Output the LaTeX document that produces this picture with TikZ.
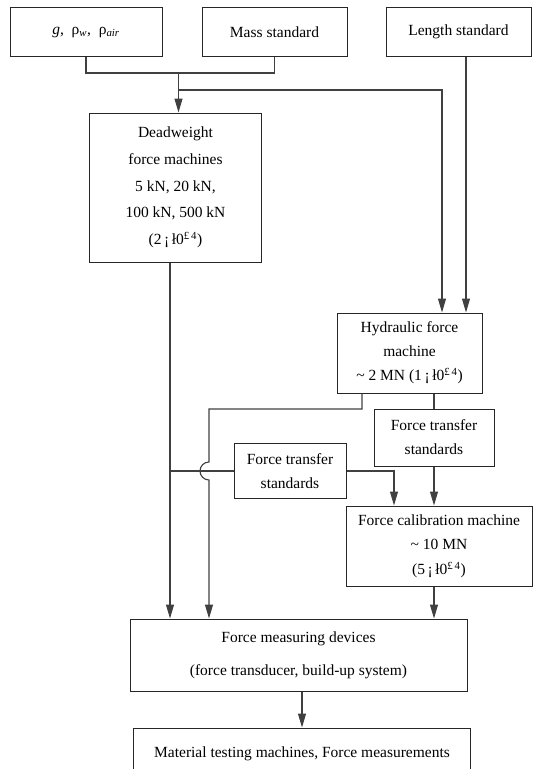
\documentclass[tikz,border=0pt]{standalone}
\usepackage{fontspec}
\setmainfont{Liberation Serif}
\usetikzlibrary{arrows.meta}
\tikzset{
  >={Triangle[length=14pt,width=8pt]},
  box/.style={draw=black!85, line width=1pt, inner sep=0pt, align=center,
    font=\fontsize{15.5}{24}\selectfont},
  link/.style={draw=black!75, line width=1.1pt},
}
\newcommand{\accy}[1]{(#1\,¡\,ł0\textsuperscript{£\,4})}

\begin{document}
\begin{tikzpicture}[x=1pt, y=-1pt]
  \useasboundingbox (0,0) rectangle (533,769);
  \clip (0,0) rectangle (533,769);

  % standards
  \node[box, minimum width=152pt, minimum height=49pt] (gr)   at (86,32)
       {{\itshape g}, \ ρ\textsubscript{\itshape w}, \ ρ\textsubscript{\itshape air}};
  \node[box, minimum width=145pt, minimum height=49pt] (mass) at (274.5,32) {Mass standard};
  \node[box, minimum width=145pt, minimum height=49pt] (len)  at (458.5,32) {Length standard};

  % machines
  \node[box, minimum width=172pt, minimum height=149pt,
        font=\fontsize{15.5}{26.7}\selectfont] (dead) at (175.5,187.5)
       {Deadweight\\force machines\\5 kN, 20 kN,\\100 kN, 500 kN\\\accy{2}};
  \node[box, minimum width=145pt, minimum height=80pt] (hyd) at (409.5,353)
       {Hydraulic force\\machine\\\textasciitilde\ 2 MN \accy{1}};
  \node[box, minimum width=120pt, minimum height=57pt] (ftsR) at (434,437.5)
       {Force transfer\\standards};
  \node[box, minimum width=112pt, minimum height=55pt] (ftsL) at (290,471)
       {Force transfer\\standards};
  \node[box, minimum width=186pt, minimum height=80pt,
        font=\fontsize{15.5}{24.5}\selectfont] (cal) at (439,546)
       {Force calibration machine\\\textasciitilde\ 10 MN\\\accy{5}};

  % devices
  \node[box, minimum width=337pt, minimum height=72pt,
        font=\fontsize{15.5}{33}\selectfont] (fmd) at (298.5,655)
       {Force measuring devices\\(force transducer, build-up system)};
  \node[box, minimum width=337pt, minimum height=52pt] (mtm) at (302,754)
       {Material testing machines, Force measurements};

  % connectors
  \coordinate (jm) at (178.5,73);
  \coordinate (jh) at (178.5,90);
  \coordinate (dw) at ([xshift=-5.5pt]dead.south);
  \coordinate (hl) at (209,409);
  \coordinate (hin) at ([xshift=56.5pt]hyd.north);

  \draw[link] (gr.south) -- ++(0,16) -| (mass.south);
  \draw[link,->] (jm) -- (jm |- dead.north);
  \draw[link,->] (jh) -| ([xshift=32.5pt]hyd.north);
  \draw[link,->] (len.south -| hin) -- (hin);

  \draw[link,->] (dw) -- (dw |- fmd.north);
  \draw[link,->] ([xshift=-47.5pt]hyd.south) |- (hl)
        -- ([yshift=9pt]hl |- ftsL.west)
        arc[start angle=90, end angle=270, radius=9pt]
        -- (hl |- fmd.north);
  \draw[link] (ftsL.west) -- (ftsL.west -| dw);
  \draw[link,->] (ftsL.east) -| ([xshift=-45pt]cal.north);

  \draw[link] (hyd.south -| ftsR.north) -- (ftsR.north);
  \draw[link,->] (ftsR.south) -- (ftsR.south |- cal.north);
  \draw[link,->] (cal.south -| ftsR.south) -- (ftsR.south |- fmd.north);
  \draw[link,->] (fmd.south -| mtm.north) -- (mtm.north);
\end{tikzpicture}
\end{document}
